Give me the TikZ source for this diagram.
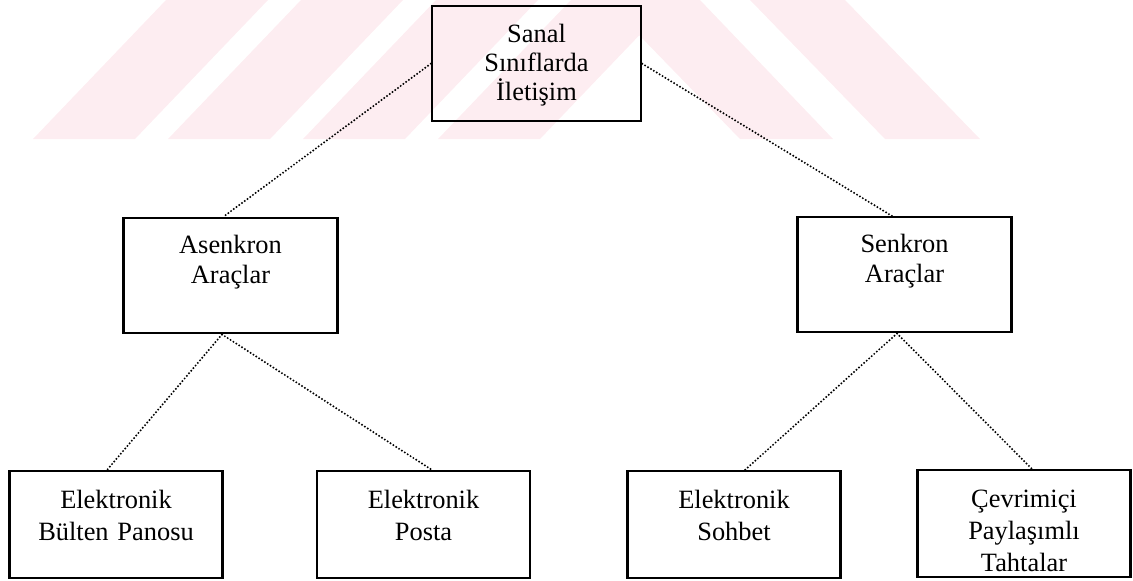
\documentclass[tikz,border=0pt]{standalone}
\usepackage{fontspec}
\setmainfont{Liberation Serif}
\usepackage{tikz}
\usetikzlibrary{calc}
\definecolor{filigran}{RGB}{253,237,241}
\tikzset{
  kutu/.style={draw, line width=1.2pt, align=center, inner sep=0pt, anchor=north,
    font=\fontsize{13.2}{16}\selectfont, text width=106.5pt,
    text height=18.5pt, text depth=35pt},
  ustkutu/.style={kutu, text width=104.5pt, text height=18pt, text depth=39.5pt,
    font=\fontsize{13.2}{14.5}\selectfont},
  ortakutu/.style={kutu, text width=107pt, text height=17.5pt, text depth=40pt,
    font=\fontsize{13.2}{15}\selectfont},
  baglanti/.style={line width=1.1pt, line cap=round, dash pattern=on 0pt off 1.7pt}
}

\begin{document}
\begin{tikzpicture}[x=0.5pt,y=-0.5pt]
    \useasboundingbox (0,0) rectangle (1133,580);
    % filigran
    \foreach \i in {0,...,3}
      \fill[filigran] ({33+135*\i},139) -- ({135+135*\i},139)
        -- ({268+135*\i},0) -- ({166+135*\i},0) -- cycle;
    \fill[filigran] (605,0) -- (700,0) -- (833,139) -- (740,139) -- cycle;
    \fill[filigran] (750,0) -- (845,0) -- (980,139) -- (885,139) -- cycle;
    % kutular
    \node[ustkutu] (iletisim) at (536.5,5) {Sanal\\Sınıflarda\\İletişim};
    \node[ortakutu] (asenkron) at (230.5,217) {Asenkron\\Araçlar};
    \node[ortakutu] (senkron) at (904.5,216) {Senkron\\Araçlar};
    \node[kutu] (bulten) at (116,470) {Elektronik\\Bülten Panosu};
    \node[kutu] (posta) at (423.5,470) {Elektronik\\Posta};
    \node[kutu] (sohbet) at (734,470) {Elektronik\\Sohbet};
    \node[kutu] (tahta) at (1024,469) {Çevrimiçi\\Paylaşımlı\\Tahtalar};
    \path[baglanti]
      (iletisim.west) edge ([xshift=-3.75pt]asenkron.north)
      (iletisim.east) edge ([xshift=-6.25pt]senkron.north)
      ([xshift=-4.25pt]asenkron.south) edge ([xshift=-4.5pt]bulten.north)
      ([xshift=-4.25pt]asenkron.south) edge ([xshift=4.25pt]posta.north)
      ([xshift=-3.75pt]senkron.south) edge ([xshift=5.5pt]sohbet.north)
      ([xshift=-3.75pt]senkron.south) edge ([xshift=4pt]tahta.north);
  \end{tikzpicture}
\end{document}
